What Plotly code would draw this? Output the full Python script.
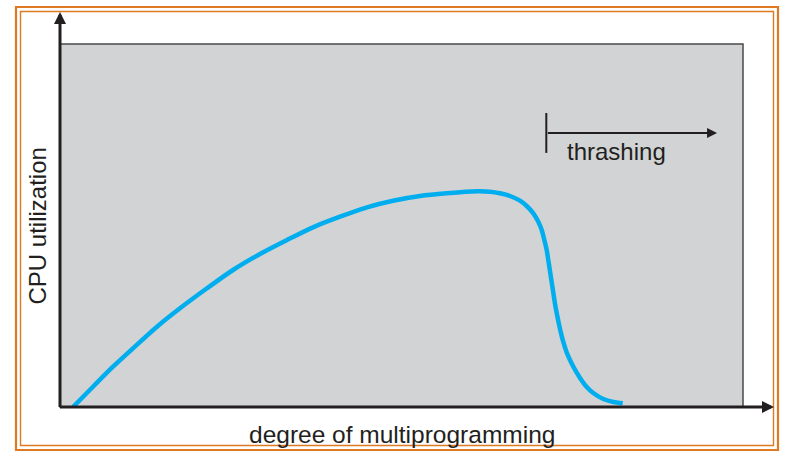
import plotly.graph_objects as go

# ---- data (degree of multiprogramming vs CPU utilization, arbitrary 0-100 units)
degree = [1.90, 4.83, 7.76, 10.69, 14.20, 17.57, 21.52, 25.33, 29.28, 33.24, 37.04,
          41.00, 44.95, 48.76, 52.71, 56.66, 61.05, 62.96, 64.42, 65.89, 67.35,
          68.33, 69.30, 70.03, 70.53, 70.91, 71.26, 71.49, 71.74, 72.11, 72.47,
          72.84, 73.21, 73.69, 74.19, 74.67, 75.15, 75.65, 76.13, 77.12, 78.08,
          79.55, 81.01, 82.39]
utilization = [0.00, 5.59, 11.10, 16.17, 22.12, 27.19, 32.70, 37.74, 42.15, 46.01, 49.50,
               52.42, 55.01, 56.83, 58.13, 58.87, 59.42, 59.31, 58.87, 58.13, 56.83,
               55.37, 53.36, 51.05, 48.76, 46.01, 43.25, 40.50, 37.47, 32.92, 28.51,
               24.79, 21.49, 17.91, 15.01, 12.95, 11.16, 9.50, 7.99, 5.51, 3.86,
               2.20, 1.38, 1.02]

x_title = "degree of multiprogramming"
y_title = "CPU utilization"
thrash_label = "thrashing"
thrash_start = 71.2   # degree where thrashing begins
thrash_end = 96.2     # arrow tip
thrash_level = 75.5   # height of the thrashing arrow

W, H = 794, 465
L, R, T, B = 60, 51, 44, 58
pw, ph = W - L - R, H - T - B

def px_x(p):  # pixel -> paper x
    return (p - L) / pw

def px_y(p):  # pixel -> paper y
    return (H - B - p) / ph

ink = "#231f20"
orange = "#dd7a22"
font = "Liberation Sans, Arial, sans-serif"

fig = go.Figure()
fig.add_trace(go.Scatter(
    x=degree, y=utilization, mode="lines",
    line=dict(color="#00aeef", width=4.5, shape="spline", smoothing=0.8),
    hoverinfo="skip", showlegend=False,
))

shapes = [
    # orange double frame
    dict(type="rect", xref="paper", yref="paper",
         x0=px_x(16), x1=px_x(778), y0=px_y(450), y1=px_y(7),
         line=dict(color=orange, width=2.2)),
    dict(type="rect", xref="paper", yref="paper",
         x0=px_x(20.5), x1=px_x(773.5), y0=px_y(445.5), y1=px_y(11.5),
         line=dict(color=orange, width=1.4)),
    # box outline (top/right)
    dict(type="rect", xref="paper", yref="paper", x0=0, x1=1, y0=0, y1=1,
         line=dict(color="#4a4a4a", width=1.5), layer="below"),
    # thrashing start tick
    dict(type="line", xref="x", yref="y", x0=thrash_start, x1=thrash_start,
         y0=thrash_level - 5.5, y1=thrash_level + 5.5,
         line=dict(color=ink, width=2)),
]

annotations = [
    # y axis arrow (tail at bottom-left corner, tip near frame top)
    dict(x=0, y=px_y(12), xref="paper", yref="paper",
         ax=0, ay=408.5 - 12, axref="pixel", ayref="pixel",
         text="", showarrow=True, arrowhead=2, arrowsize=0.8, arrowwidth=3,
         arrowcolor=ink, standoff=0, startstandoff=0),
    # x axis arrow
    dict(x=px_x(774), y=0, xref="paper", yref="paper",
         ax=-(774 - 58.5), ay=0, axref="pixel", ayref="pixel",
         text="", showarrow=True, arrowhead=2, arrowsize=0.8, arrowwidth=3,
         arrowcolor=ink, standoff=0, startstandoff=0),
    # thrashing arrow
    dict(x=thrash_end, y=thrash_level, ax=thrash_start, ay=thrash_level,
         xref="x", yref="y", axref="x", ayref="y",
         text="", showarrow=True, arrowhead=2, arrowsize=1.0, arrowwidth=2,
         arrowcolor=ink, standoff=0, startstandoff=0),
    dict(x=thrash_start + 2.8, y=thrash_level - 5.0, xref="x", yref="y",
         text=thrash_label, showarrow=False, xanchor="left", yanchor="middle",
         font=dict(family=font, size=24, color=ink)),
    # axis titles
    dict(x=px_x(401.5), y=px_y(435), xref="paper", yref="paper", text=x_title,
         showarrow=False, xanchor="center", yanchor="middle",
         font=dict(family=font, size=24.5, color=ink)),
    dict(x=px_x(37), y=px_y(226.5), xref="paper", yref="paper", text=y_title,
         showarrow=False, xanchor="center", yanchor="middle", textangle=-90,
         font=dict(family=font, size=24, color=ink)),
]

fig.update_layout(
    width=W, height=H,
    margin=dict(l=L, r=R, t=T, b=B),
    paper_bgcolor="white", plot_bgcolor="#d1d3d4",
    xaxis=dict(range=[0, 100], visible=False, fixedrange=True),
    yaxis=dict(range=[0, 100], visible=False, fixedrange=True),
    shapes=shapes, annotations=annotations, showlegend=False,
)

fig.write_html("out.html")
